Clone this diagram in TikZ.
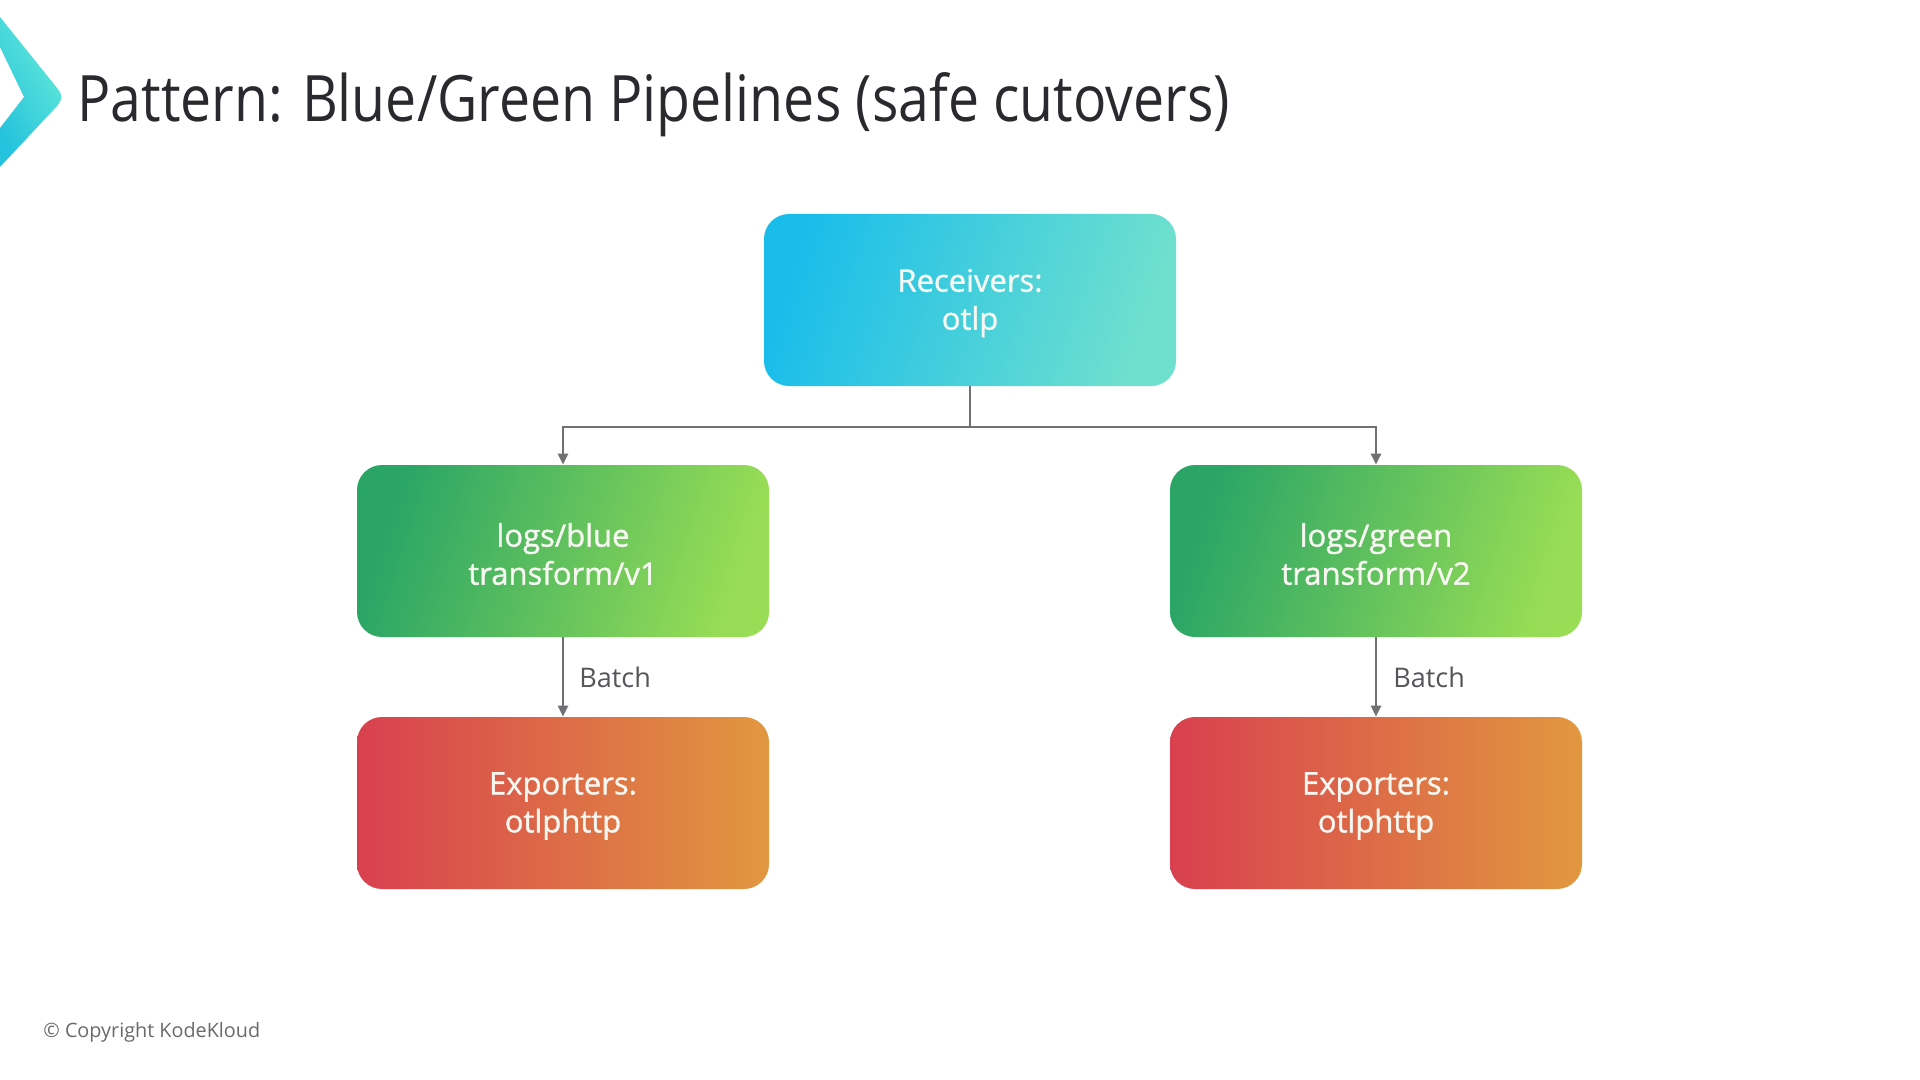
\documentclass[tikz,border=0pt]{standalone}
\usepackage{fontspec}
\setmainfont{Open Sans}
\newfontfamily\titlefont{Open Sans}[FakeStretch=0.865]
\newfontfamily\boxfont{Open Sans}[FakeBold=1.2]
\usetikzlibrary{arrows.meta}
\definecolor{txtdark}{HTML}{2A2A2E}
\definecolor{linegray}{HTML}{717174}
\definecolor{lblgray}{HTML}{55555A}
\definecolor{cpgray}{HTML}{6A6A6A}
\definecolor{boxtxt}{HTML}{F7F7F2}
\definecolor{cyanA}{HTML}{1ABDEA}
\definecolor{cyanB}{HTML}{6FE0CE}
\definecolor{greenA}{HTML}{2AA566}
\definecolor{greenB}{HTML}{98DD55}
\definecolor{redA}{HTML}{D9404F}
\definecolor{redB}{HTML}{E1983F}
\definecolor{chevA}{HTML}{25C3DD}
\definecolor{chevB}{HTML}{65EAD9}
\tikzset{
  box/.style={rounded corners=12.5pt, minimum width=206pt, minimum height=86pt, inner sep=0pt},
  boxtext/.style={align=center, text=boxtxt, inner sep=0pt, font=\boxfont\fontsize{15.5}{19}\selectfont},
  recvbox/.style={box, top color=cyanA, bottom color=cyanB, middle color=cyanA!50!cyanB, shading angle=72},
  pipebox/.style={box, top color=greenA, bottom color=greenB, middle color=greenA!50!greenB, shading angle=72},
  expbox/.style={box, left color=redA, right color=redB},
  conn/.style={draw=linegray, line width=1.4pt},
  arr/.style={conn, -{Triangle[length=5.5pt,width=5pt]}},
  lbl/.style={text=lblgray, font=\fontsize{13.5}{16}\selectfont, anchor=west, inner sep=0pt},
}
\begin{document}
\begin{tikzpicture}[x=0.5pt,y=-0.5pt]
\path[use as bounding box, fill=white] (0,0) rectangle (1920,1080);
% chevron
\shade[left color=chevA, right color=chevB, shading angle=120]
  (0,17) -- (57,88) .. controls (63,96) and (63,98) .. (57,106) -- (0,167) -- (0,128) -- (24,97) -- (0,47) -- cycle;
% title
\node[anchor=base west, inner sep=0pt, text=txtdark, font=\titlefont\fontsize{32}{38}\selectfont] (title) at (77,122) {Pattern: Blue/Green Pipelines (safe cutovers)};
% nodes
\node[recvbox] (recv) at (970,300) {};
\node[pipebox] (blue) at (563,551) {};
\node[pipebox] (green) at (1376,551) {};
\node[expbox] (expL) at (563,803) {};
\node[expbox] (expR) at (1376,803) {};
\node[boxtext] (recvT) at ([yshift=-1.5pt]recv.center) {Receivers:\\otlp};
\node[boxtext] (blueT) at ([yshift=-1.5pt]blue.center) {logs/blue\\transform/v1};
\node[boxtext] (greenT) at ([yshift=-1.5pt]green.center) {logs/green\\transform/v2};
\node[boxtext] (expLT) at ([yshift=-1.5pt]expL.center) {Exporters:\\otlphttp};
\node[boxtext] (expRT) at ([yshift=-1.5pt]expR.center) {Exporters:\\otlphttp};
% connectors
\coordinate (split) at (970,427);
\draw[conn] (recv.south) -- (split);
\draw[arr] (split) -| (blue.north);
\draw[arr] (split) -| (green.north);
\draw[arr] (blue.south) -- (expL.north);
\draw[arr] (green.south) -- (expR.north);
\node[lbl] (batchL) at (579,677) {Batch};
\node[lbl] (batchR) at (1393,677) {Batch};
% copyright
\node[anchor=west, inner sep=0pt, text=cpgray, font=\fontsize{9.9}{12}\selectfont] (copy) at (43,1032) {© Copyright KodeKloud};
\end{tikzpicture}
\end{document}
